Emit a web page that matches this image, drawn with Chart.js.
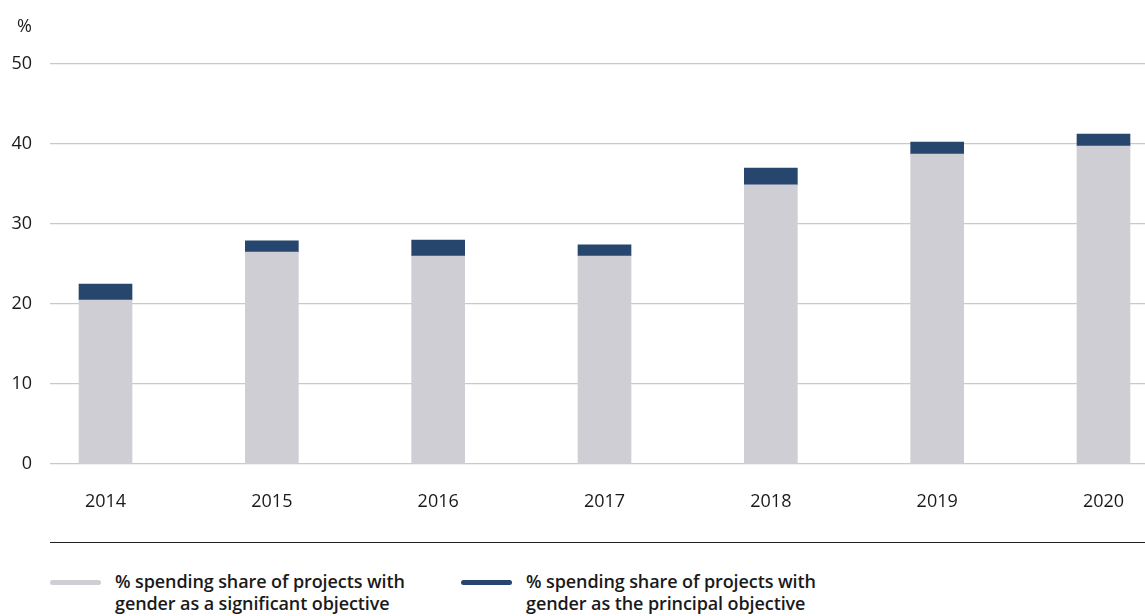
<!DOCTYPE html>
<html>
<head>
<meta charset="utf-8">
<script src="https://cdn.jsdelivr.net/npm/chart.js@4/dist/chart.umd.min.js"></script>
<style>
	body { margin: 0; background: #fff; font-family: "Open Sans", sans-serif; }
	#wrap { position: relative; width: 1145px; height: 616px; overflow: hidden; }
	#rule { position: absolute; left: 50px; right: 0; top: 542px; border-top: 1.5px solid #222; }
	.item { position: absolute; top: 570px; display: flex; align-items: flex-start; }
	.mark { width: 51px; height: 5px; border-radius: 3px; margin-top: 10px; }
	.txt { margin-left: 14px; font-size: 18px; font-weight: 600; line-height: 22px; color: #1a1a1a; letter-spacing: -0.1px; }
</style>
</head>
<body>
<div id="wrap">
	<canvas id="bars" width="1145" height="530"></canvas>
	<div id="rule"></div>
	<div id="legend"></div>
</div>
<script>
const years = ["2014", "2015", "2016", "2017", "2018", "2019", "2020"];
const significant = [20.5, 26.5, 26, 26, 34.9, 38.75, 39.75];
const principal = [2.0, 1.4, 2.0, 1.4, 2.1, 1.5, 1.5];
const yTicks = [0, 10, 20, 30, 40, 50];
const seriesNames = [
	["% spending share of projects with", "gender as a significant objective"],
	["% spending share of projects with", "gender as the principal objective"],
];
const colors = ["#d0ced5", "#27466e"];

const font = { family: "'Open Sans', sans-serif", size: 18, weight: 500 };

const percentTitle = {
	id: "percentTitle",
	afterDraw(chart) {
		const y = chart.scales.y;
		const c = chart.ctx;
		c.save();
		c.font = "500 18px 'Open Sans', sans-serif";
		c.fillStyle = "#1a1a1a";
		c.textAlign = "right";
		c.textBaseline = "middle";
		c.fillText("%", y.right - 18, y.getPixelForValue(50) - 37);
		c.restore();
	},
};

const ctx = document.getElementById("bars").getContext("2d");
const chart = new Chart(ctx, {
	type: "bar",
	data: {
		datasets: [
			{
				label: seriesNames[0].join(" "),
				data: significant.map((v, i) => ({ x: i, y: v })),
				backgroundColor: colors[0],
				barThickness: 53,
			},
			{
				label: seriesNames[1].join(" "),
				data: principal.map((v, i) => ({ x: i, y: v })),
				backgroundColor: colors[1],
				barThickness: 53,
			},
		],
	},
	plugins: [percentTitle],
	options: {
		responsive: false,
		animation: false,
		layout: { padding: { top: 64, right: 0, left: 0, bottom: 0 } },
		plugins: {
			legend: { display: false },
			tooltip: { enabled: false },
		},
		scales: {
			x: {
				type: "linear",
				stacked: true,
				offset: false,
				min: -0.3337,
				max: 6.2495,
				grid: { display: false },
				border: { display: false },
				afterBuildTicks(scale) {
					scale.ticks = years.map((_, i) => ({ value: i }));
				},
				afterFit(scale) {
					scale.height = 66;
				},
				ticks: {
					padding: 19,
					color: "#1a1a1a",
					font: font,
					callback: (v) => years[v],
				},
			},
			y: {
				stacked: true,
				min: 0,
				max: 50,
				afterBuildTicks(scale) {
					scale.ticks = yTicks.map((v) => ({ value: v }));
				},
				afterFit(scale) {
					scale.width = 50;
				},
				grid: { color: "#c9c9c9", lineWidth: 1.3, drawTicks: false },
				border: { display: false },
				ticks: {
					padding: 18,
					color: "#1a1a1a",
					font: font,
				},
			},
		},
	},
});

const legend = document.getElementById("legend");
const lefts = [50, 461];
seriesNames.forEach((lines, i) => {
	const item = document.createElement("div");
	item.className = "item";
	item.style.left = lefts[i] + "px";
	item.innerHTML =
		'<div class="mark" style="background:' + colors[i] + '"></div>' +
		'<div class="txt">' + lines.join("<br>") + "</div>";
	legend.appendChild(item);
});
</script>
</body>
</html>
